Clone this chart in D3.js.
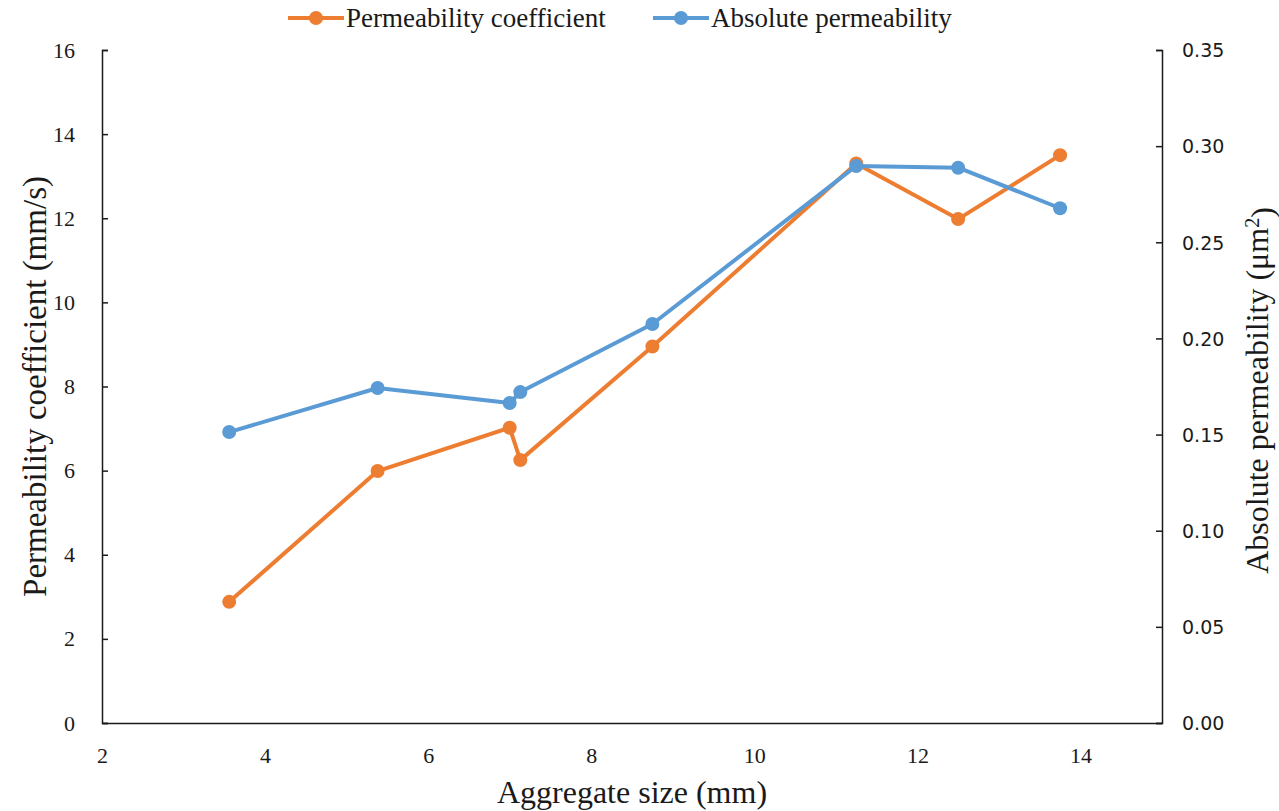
<!DOCTYPE html>
<html>
<head>
<meta charset="utf-8">
<script src="https://cdn.jsdelivr.net/npm/d3@7"></script>
<style>
  html, body { margin: 0; padding: 0; background: #fff; }
  svg { display: block; }
</style>
</head>
<body>
<svg id="chart" width="1279" height="811"></svg>
<script>
// Aggregate size (mm)
const aggregateSize = [3.56, 5.38, 7.0, 7.13, 8.75, 11.25, 12.5, 13.75];
// Permeability coefficient (mm/s), left axis
const permCoefficient = [2.88, 5.99, 7.02, 6.25, 8.95, 13.30, 11.98, 13.50];
// Absolute permeability (μm²), right axis
const absPermeability = [0.1513, 0.1742, 0.1664, 0.1721, 0.2075, 0.2897, 0.2888, 0.2677];

const xTicks = [2, 4, 6, 8, 10, 12, 14];
const leftTicks = [0, 2, 4, 6, 8, 10, 12, 14, 16];
const rightTicks = [0, 0.05, 0.10, 0.15, 0.20, 0.25, 0.30, 0.35];

const seriesNames = ["Permeability coefficient", "Absolute permeability"];
const seriesColors = ["#ED7D31", "#5B9BD5"];

const svg = d3.select("#chart");
const plot = { left: 102, right: 1162, top: 50, bottom: 723 };

const x = d3.scaleLinear().domain([2, 15]).range([plot.left, plot.right]);
const yL = d3.scaleLinear().domain([0, 16]).range([plot.bottom, plot.top]);
const yR = d3.scaleLinear().domain([0, 0.35]).range([plot.bottom, plot.top]);

const serif = "'Liberation Serif', 'Times New Roman', serif";
const sans = "'DejaVu Sans', Verdana, sans-serif";

// Axes
const gx = svg.append("g")
  .attr("transform", `translate(0,${plot.bottom})`)
  .call(d3.axisBottom(x).tickValues(xTicks).tickFormat(d3.format("d"))
    .tickSize(0).tickPadding(24));

const gl = svg.append("g")
  .attr("transform", `translate(${plot.left},0)`)
  .call(d3.axisLeft(yL).tickValues(leftTicks).tickFormat(d3.format("d"))
    .tickSizeInner(-6).tickSizeOuter(-6).tickPadding(27));

const gr = svg.append("g")
  .attr("transform", `translate(${plot.right},0)`)
  .call(d3.axisRight(yR).tickValues(rightTicks).tickFormat(d3.format(".2f"))
    .tickSizeInner(-6).tickSizeOuter(-6).tickPadding(20));

[gx, gl, gr].forEach(g => {
  g.selectAll(".domain, .tick line").attr("stroke", "#1a1a1a").attr("stroke-width", 1.5);
  g.selectAll("text").attr("fill", "#1a1a1a");
});
gx.selectAll("text").attr("font-family", serif).attr("font-size", 22);
gl.selectAll("text").attr("font-family", serif).attr("font-size", 22);
gr.selectAll("text").attr("font-family", sans).attr("font-size", 19).attr("dy", "0.36em");

// Axis titles
svg.append("text")
  .attr("x", (plot.left + plot.right) / 2).attr("y", 803)
  .attr("text-anchor", "middle")
  .attr("font-family", serif).attr("font-size", 32).attr("fill", "#1a1a1a")
  .text("Aggregate size (mm)");

svg.append("text")
  .attr("transform", `translate(46,${(plot.top + plot.bottom) / 2}) rotate(-90)`)
  .attr("text-anchor", "middle")
  .attr("font-family", serif).attr("font-size", 33).attr("fill", "#1a1a1a")
  .text("Permeability coefficient (mm/s)");

const rt = svg.append("text")
  .attr("transform", `translate(1268,${(plot.top + plot.bottom) / 2 + 4}) rotate(-90)`)
  .attr("text-anchor", "middle")
  .attr("font-family", serif).attr("font-size", 32).attr("fill", "#1a1a1a");
rt.append("tspan").text("Absolute permeability (μm");
rt.append("tspan").attr("dy", "-0.45em").attr("font-size", 20).text("2");
rt.append("tspan").attr("dy", "0.45em").text(")");

// Series
const series = [
  { name: seriesNames[0], color: seriesColors[0], y: yL, values: permCoefficient },
  { name: seriesNames[1], color: seriesColors[1], y: yR, values: absPermeability }
];

series.forEach(s => {
  const pts = aggregateSize.map((a, i) => [a, s.values[i]]);
  const line = d3.line().x(d => x(d[0])).y(d => s.y(d[1]));
  svg.append("path")
    .datum(pts)
    .attr("fill", "none")
    .attr("stroke", s.color)
    .attr("stroke-width", 4)
    .attr("stroke-linejoin", "round")
    .attr("d", line);
  svg.append("g").selectAll("circle")
    .data(pts).join("circle")
    .attr("cx", d => x(d[0]))
    .attr("cy", d => s.y(d[1]))
    .attr("r", 7)
    .attr("fill", s.color);
});

// Legend
const legendItems = [
  { x0: 288, label: seriesNames[0], color: seriesColors[0] },
  { x0: 653, label: seriesNames[1], color: seriesColors[1] }
];
legendItems.forEach(it => {
  const g = svg.append("g").attr("transform", `translate(${it.x0},18)`);
  g.append("line").attr("x1", 0).attr("x2", 56).attr("y1", 0).attr("y2", 0)
    .attr("stroke", it.color).attr("stroke-width", 4);
  g.append("circle").attr("cx", 28).attr("cy", 0).attr("r", 7).attr("fill", it.color);
  g.append("text").attr("x", 58).attr("y", 9)
    .attr("font-family", serif).attr("font-size", 27).attr("fill", "#1a1a1a")
    .text(it.label);
});
</script>
</body>
</html>
